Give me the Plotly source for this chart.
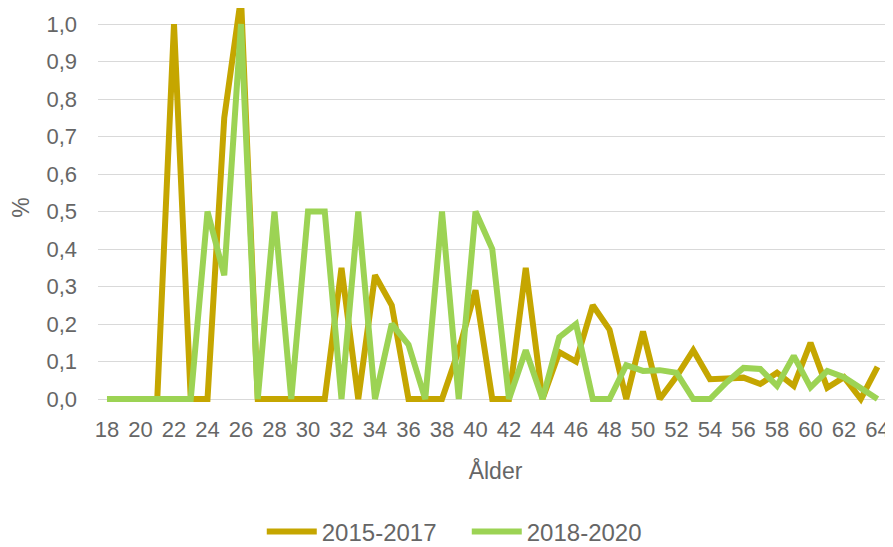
import plotly.graph_objects as go

# ålder 18-64
ages = list(range(18, 65))

y_2015_2017 = [0, 0, 0, 0, 1.0, 0, 0, 0.75, 1.07, 0,
               0, 0, 0, 0, 0.35, 0, 0.33, 0.25, 0, 0,
               0, 0.13, 0.29, 0, 0, 0.35, 0, 0.125, 0.10, 0.25,
               0.185, 0, 0.18, 0, 0.06, 0.13, 0.053, 0.055, 0.057, 0.04,
               0.07, 0.035, 0.15, 0.03, 0.058, 0, 0.086]

y_2018_2020 = [0, 0, 0, 0, 0, 0, 0.5, 0.33, 1.0, 0,
               0.5, 0, 0.5, 0.5, 0, 0.5, 0, 0.2, 0.145, 0,
               0.5, 0, 0.5, 0.4, 0, 0.13, 0, 0.165, 0.2, 0,
               0, 0.09, 0.075, 0.077, 0.07, 0, 0, 0.045, 0.083, 0.08,
               0.035, 0.115, 0.031, 0.075, 0.058, 0.027, 0]

series_names = ["2015-2017", "2018-2020"]
colors = ["#C5A600", "#9CD354"]

text_col = "#666666"
font_fam = "Liberation Sans, Arial, sans-serif"

fig = go.Figure()

for name, vals, col in zip(series_names, [y_2015_2017, y_2018_2020], colors):
    fig.add_trace(go.Scatter(
        x=ages,
        y=vals,
        name=name,
        mode="lines",
        line=dict(color=col, width=6)))

# the page body has an 8px margin, so the figure is 8px smaller
fig.update_layout(
    width=885, height=539,
    margin=dict(l=90, r=0, t=0, b=140),
    paper_bgcolor="white",
    plot_bgcolor="white",
    separators=", ",
    font=dict(family=font_fam, size=22, color=text_col),
    showlegend=True,
    legend=dict(
        orientation="h",
        x=0.206, xanchor="left",
        yref="container",
        y=0.028, yanchor="middle",
        entrywidth=140,
        entrywidthmode="pixels",
        itemwidth=50,
        font=dict(size=24, color=text_col)))

fig.update_xaxes(
    range=[17.463, 64.925],
    tickmode="array",
    tickvals=ages[::2],
    showgrid=False,
    zeroline=False,
    showline=False,
    ticks="",
    automargin=False,
    ticklabeloverflow="allow",
    ticklabelstandoff=7,
    tickfont=dict(size=22, color=text_col),
    title=dict(text="Ålder", standoff=21, font=dict(size=23, color=text_col)))

fig.update_yaxes(
    range=[-0.0213, 1.0427],
    tickvals=[0, 0.1, 0.2, 0.3, 0.4, 0.5, 0.6, 0.7, 0.8, 0.9, 1.0],
    tickformat=".1f",
    showgrid=True,
    gridcolor="#D9D9D9",
    gridwidth=1.3,
    zeroline=False,
    showline=False,
    ticks="",
    automargin=False,
    ticklabelstandoff=20,
    tickfont=dict(size=22, color=text_col),
    title=dict(text="%", standoff=12, font=dict(size=23, color=text_col)))

fig.write_html("out.html")
